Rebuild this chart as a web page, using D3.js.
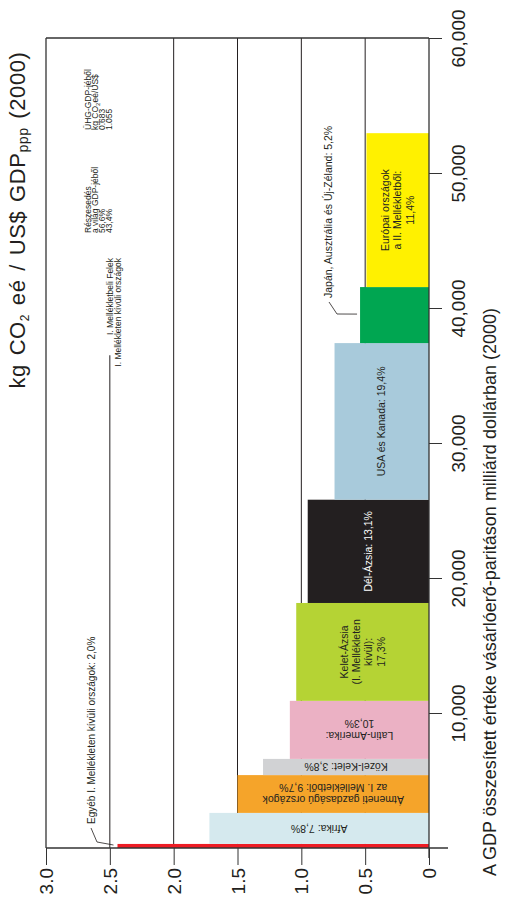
<!DOCTYPE html>
<html>
<head>
<meta charset="utf-8">
<script src="https://cdn.jsdelivr.net/npm/d3@7"></script>
<style>
body { margin: 0; background: #fff; }
svg { font-family: "Liberation Sans", Arial, Helvetica, sans-serif; }
</style>
</head>
<body>
<svg id="chart" width="508" height="903"></svg>
<script>
// regions, stacked along the GDP axis from 0 upwards
const regions = ["Egyéb I. Mellékleten kívüli országok", "Afrika", "Átmeneti gazdaságú országok az I. Mellékletből",
  "Közel-Kelet", "Latin-Amerika", "Kelet-Ázsia (I. Mellékleten kívül)", "Dél-Ázsia", "USA és Kanada",
  "Japán, Ausztrália és Új-Zéland", "Európai országok a II. Mellékletből"]
const gdp = [300, 2300, 2800, 1200, 4300, 7250, 7650, 11600, 4150, 11400]   // milliárd USD (ppp)
const intensity = [2.44, 1.72, 1.50, 1.30, 1.09, 1.04, 0.95, 0.74, 0.54, 0.49] // kg CO2 eé / US$
const shares = ["2,0%", "7,8%", "9,7%", "3,8%", "10,3%", "17,3%", "13,1%", "19,4%", "5,2%", "11,4%"]
const colors = ["#ed1c24", "#d5e9ee", "#f5a42a", "#d1d2d4", "#ebb1c4", "#b5d334", "#231f20", "#a8cadb", "#00a651", "#fff100"]
const barText = [
  null,
  ["Afrika: 7,8%"],
  ["Átmeneti gazdaságú országok", "az I. Mellékletből: 9,7%"],
  ["Közel-Kelet: 3,8%"],
  ["Latin-Amerika:", "10,3%"],
  ["Kelet-Ázsia", "(I. Mellékleten", "kívül):", "17,3%"],
  ["Dél-Ázsia: 13,1%"],
  ["USA és Kanada: 19,4%"],
  null,
  ["Európai országok", "a II. Mellékletből:", "11,4%"]
]
const flipped = [false, true, true, true, true, false, false, false, false, false]

const gdpTicks = [10000, 20000, 30000, 40000, 50000, 60000]
const valueTicks = [0, 0.5, 1, 1.5, 2, 2.5, 3]
const gridValues = [0.5, 1, 1.5, 2, 2.5]

const tableRows = ["I. Mellékletbeli Felek", "I. Mellékleten kívüli országok"]
const tableShare = ["56,6%", "43,4%"]
const tableIntensity = ["0.683", "1.055"]

const svg = d3.select("#chart")
const gy = d3.scaleLinear().domain([0, 60000]).range([848, 38])
const vx = d3.scaleLinear().domain([0, 3]).range([429, 46])

const ends = d3.cumsum(gdp)
const starts = ends.map((e, i) => e - gdp[i])
const ink = "#231f20"

// grid (the 2.5 line stops below the little table)
svg.append("g").selectAll("line").data(gridValues).join("line")
  .attr("x1", d => vx(d)).attr("x2", d => vx(d))
  .attr("y1", d => d === 2.5 ? gy(36500) : gy(60000)).attr("y2", gy(0))
  .attr("stroke", ink).attr("stroke-width", 1)

// bars
svg.append("g").selectAll("rect").data(regions).join("rect")
  .attr("x", (d, i) => vx(intensity[i]))
  .attr("width", (d, i) => vx(0) - vx(intensity[i]))
  .attr("y", (d, i) => gy(ends[i]))
  .attr("height", (d, i) => gy(starts[i]) - gy(ends[i]))
  .attr("fill", (d, i) => colors[i])

// frame
const frame = svg.append("g").attr("stroke", "#333").attr("stroke-width", 1.3)
frame.append("line").attr("x1", vx(3)).attr("x2", vx(0) + 19).attr("y1", gy(0)).attr("y2", gy(0))
frame.append("line").attr("x1", vx(0)).attr("x2", vx(0)).attr("y1", gy(60000)).attr("y2", gy(0) + 10)
frame.append("line").attr("x1", vx(3)).attr("x2", vx(0)).attr("y1", gy(60000)).attr("y2", gy(60000))
frame.append("line").attr("x1", vx(3)).attr("x2", vx(3)).attr("y1", gy(60000)).attr("y2", gy(0))

// GDP axis (right side)
const gAxis = svg.append("g").attr("transform", `translate(${vx(0)},0)`)
  .call(d3.axisRight(gy).tickValues(gdpTicks).tickSize(13).tickFormat(d3.format(",")))
gAxis.select(".domain").remove()
gAxis.attr("font-family", null).attr("font-size", 19).attr("color", "#333")
gAxis.selectAll("text").attr("x", 0).attr("dy", "0.35em").attr("text-anchor", "middle")
  .attr("transform", "translate(29,0) rotate(-90)").attr("fill", ink)

// value axis (bottom)
const vAxis = svg.append("g").attr("transform", `translate(0,${gy(0)})`)
  .call(d3.axisBottom(vx).tickValues(valueTicks).tickSize(17)
    .tickFormat(d => d === 0 ? "0" : d3.format(".1f")(d)))
vAxis.select(".domain").remove()
vAxis.attr("font-family", null).attr("font-size", 19).attr("color", "#333")
vAxis.selectAll("text").attr("y", 0).attr("dy", "0.35em").attr("text-anchor", "end")
  .attr("transform", "translate(0,20) rotate(-90)").attr("fill", ink)

// axis titles
const yTitle = svg.append("text").attr("transform", "translate(25,220) rotate(-90)")
  .attr("text-anchor", "middle").attr("font-size", 22).attr("fill", ink)
  .attr("word-spacing", 2).attr("letter-spacing", 0.6)
yTitle.append("tspan").text("kg CO")
yTitle.append("tspan").text("2").attr("font-size", 12).attr("dy", 4)
yTitle.append("tspan").text(" eé / US$ GDP").attr("dy", -4)
yTitle.append("tspan").text("ppp").attr("font-size", 14).attr("dy", 3)
yTitle.append("tspan").text(" (2000)").attr("dy", -3)

svg.append("text").attr("transform", "translate(496,592) rotate(-90)")
  .attr("text-anchor", "middle").attr("font-size", 18).attr("fill", ink)
  .text("A GDP összesített értéke vásárlóerő-paritáson milliárd dollárban (2000)")

// labels inside bars
const lh = 12.3
barText.forEach((lines, i) => {
  if (!lines) return
  const cx = (vx(intensity[i]) + vx(0)) / 2
  const cy = (gy(starts[i]) + gy(ends[i])) / 2
  const t = svg.append("text")
    .attr("transform", `translate(${cx},${cy}) rotate(${flipped[i] ? 180 : -90})`)
    .attr("text-anchor", "middle").attr("font-size", 10.5)
    .attr("fill", i === 6 ? "#fff" : ink)
  lines.forEach((s, k) => {
    t.append("tspan").attr("x", 0)
      .attr("y", (k - (lines.length - 1) / 2) * lh).attr("dy", "0.35em").text(s)
  })
})

// outside labels with leader lines
const lead = svg.append("g").attr("fill", "none").attr("stroke", ink).attr("stroke-width", 0.8)
lead.append("polyline").attr("points", [[91, 828], [97, 842], [vx(intensity[0]) - 4, gy(starts[0]) - 3]].join(" "))
svg.append("text").attr("transform", "translate(91,824) rotate(-90)")
  .attr("font-size", 10).attr("fill", ink).attr("dy", "0.35em")
  .text(`${regions[0]}: ${shares[0]}`)

lead.append("polyline").attr("points", [[329, 302], [337, 314], [vx(intensity[8]) - 3, gy((starts[8] + ends[8]) / 2) - 1]].join(" "))
svg.append("text").attr("transform", "translate(328,298) rotate(-90)")
  .attr("font-size", 10.5).attr("fill", ink).attr("dy", "0.35em")
  .text(`${regions[8]}: ${shares[8]}`)

// small table
const tbl = svg.append("g").attr("font-size", 8.5).attr("fill", ink)
const col = (x, y, s, anchor) => tbl.append("text").attr("transform", `translate(${x},${y}) rotate(-90)`)
  .attr("text-anchor", anchor || "start").attr("dy", "0.35em").text(s)
tableRows.forEach((s, i) => col(110 + i * 8, 258, s, "end"))
col(88, 233, "Részesedés"); col(95, 233, "a világ GDP-jéből")
tableShare.forEach((s, i) => col(102 + i * 7, 233, s))
col(88, 130, "ÜHG-GDP-jéből")
const u = tbl.append("text").attr("transform", "translate(95,130) rotate(-90)").attr("dy", "0.35em")
u.append("tspan").text("kg CO"); u.append("tspan").text("2").attr("font-size", 6).attr("dy", 2)
u.append("tspan").text("eé/US$").attr("dy", -2)
tableIntensity.forEach((s, i) => col(102 + i * 7, 130, s))
</script>
</body>
</html>
